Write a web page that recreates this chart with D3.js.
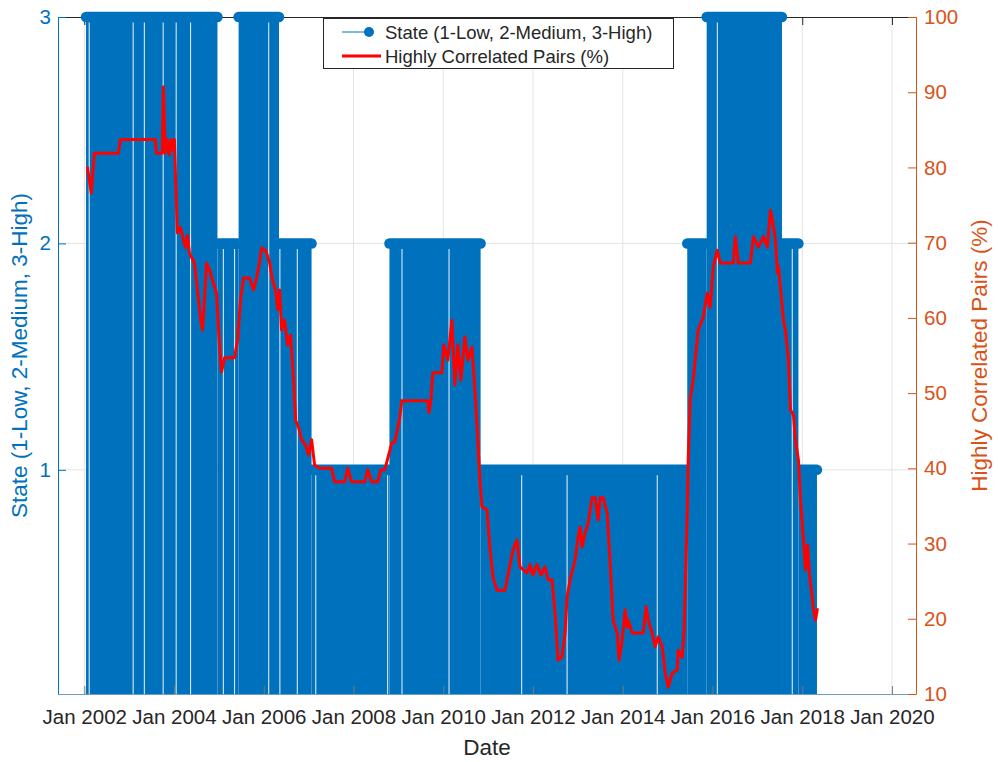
<!DOCTYPE html>
<html>
<head>
<meta charset="utf-8">
<script src="https://cdn.jsdelivr.net/npm/d3@7"></script>
<style>
  body { margin: 0; background: #fff; }
  text { font-family: "Liberation Sans", Arial, sans-serif; }
</style>
</head>
<body>
<div id="chart"></div>
<script>
// state regimes: each start date holds its state until the next one
const regimeStarts = ['2002-01-15', '2004-12-20', '2005-06-10', '2006-05-05', '2007-01-25', '2008-10-20',
  '2010-11-01', '2015-06-10', '2015-11-15', '2017-07-20', '2017-12-01'];
const regimeStates = [3, 2, 3, 2, 1, 2, 1, 2, 3, 2, 1];
const stateEnd = '2018-05-01';

// days with no observation (thin gaps between the stems)
const missingDays = ['2002-02-10', '2003-02-03', '2003-05-05', '2003-10-05', '2004-01-19', '2004-05-15',
  '2005-02-06', '2005-05-08', '2006-02-10', '2006-05-12', '2006-10-01', '2007-02-28', '2008-10-05',
  '2009-01-30', '2010-02-17', '2011-10-01', '2012-10-05', '2014-10-09', '2016-02-10', '2017-10-12'];

// highly correlated pairs (%), dates as decimal years
const pairYears = [
  2002.067, 2002.156, 2002.223, 2002.759, 2002.804, 2003.585, 2003.607, 2003.741, 2003.763, 2003.808,
  2003.853, 2003.897, 2003.942, 2003.987, 2004.009, 2004.076, 2004.143, 2004.210, 2004.254, 2004.299,
  2004.344, 2004.455, 2004.545, 2004.589, 2004.634, 2004.679, 2004.723, 2004.790, 2004.857, 2004.946,
  2004.991, 2005.036, 2005.058, 2005.125, 2005.348, 2005.415, 2005.482, 2005.549, 2005.683, 2005.772,
  2005.839, 2005.906, 2005.951, 2006.040, 2006.129, 2006.196, 2006.263, 2006.308, 2006.353, 2006.397,
  2006.464, 2006.531, 2006.598, 2006.665, 2006.710, 2006.777, 2006.844, 2006.933, 2007.000, 2007.067,
  2007.134, 2007.246, 2007.513, 2007.580, 2007.804, 2007.871, 2007.960, 2008.250, 2008.317, 2008.406,
  2008.540, 2008.607, 2008.696, 2008.853, 2008.920, 2009.031, 2009.076, 2009.656, 2009.679, 2009.723,
  2009.768, 2009.969, 2010.013, 2010.103, 2010.192, 2010.259, 2010.326, 2010.393, 2010.482, 2010.549,
  2010.638, 2010.705, 2010.750, 2010.817, 2010.862, 2010.973, 2011.040, 2011.107, 2011.196, 2011.375,
  2011.442, 2011.509, 2011.554, 2011.643, 2011.710, 2011.866, 2011.933, 2012.000, 2012.089, 2012.179,
  2012.268, 2012.335, 2012.424, 2012.491, 2012.558, 2012.647, 2012.714, 2012.759, 2012.826, 2012.938,
  2013.004, 2013.049, 2013.094, 2013.161, 2013.228, 2013.317, 2013.384, 2013.451, 2013.496, 2013.563,
  2013.652, 2013.719, 2013.786, 2013.875, 2013.920, 2013.987, 2014.054, 2014.098, 2014.121, 2014.210,
  2014.455, 2014.522, 2014.567, 2014.656, 2014.723, 2014.790, 2014.879, 2014.946, 2015.013, 2015.103,
  2015.214, 2015.237, 2015.326, 2015.371, 2015.438, 2015.460, 2015.504, 2015.571, 2015.616, 2015.683,
  2015.795, 2015.884, 2015.951, 2016.018, 2016.107, 2016.174, 2016.464, 2016.509, 2016.576, 2016.844,
  2016.911, 2017.022, 2017.134, 2017.223, 2017.290, 2017.335, 2017.402, 2017.446, 2017.469, 2017.513,
  2017.580, 2017.625, 2017.692, 2017.737, 2017.804, 2017.848, 2017.915, 2017.960, 2018.027, 2018.071,
  2018.116, 2018.161, 2018.205, 2018.250, 2018.295, 2018.339];
const pairValues = [
  80.1, 76.6, 81.9, 81.9, 83.7, 83.7, 81.9, 81.9, 90.7, 81.9,
  83.7, 81.7, 83.7, 82.3, 83.7, 71.3, 72.0, 70.4, 69.4, 71.0,
  68.6, 67.3, 62.4, 60.0, 58.4, 62.4, 67.3, 66.4, 65.0, 63.3,
  58.4, 54.4, 52.8, 54.7, 54.7, 57.1, 62.4, 65.3, 65.3, 63.7,
  65.3, 67.4, 69.3, 69.0, 67.4, 65.0, 63.7, 61.1, 63.7, 58.4,
  59.7, 56.4, 57.7, 51.7, 46.4, 45.4, 43.8, 43.1, 41.8, 43.8,
  40.4, 40.0, 40.0, 38.2, 38.2, 40.0, 38.2, 38.2, 39.8, 38.2,
  38.2, 39.8, 39.8, 43.4, 43.5, 46.8, 49.0, 49.0, 47.4, 49.0,
  52.7, 52.7, 56.4, 54.4, 59.7, 51.1, 56.4, 51.7, 57.5, 54.4,
  56.1, 50.4, 46.0, 38.4, 34.9, 34.5, 29.5, 25.6, 23.8, 23.8,
  25.8, 27.8, 29.1, 30.5, 26.9, 26.1, 27.2, 25.8, 27.2, 25.8,
  26.9, 25.2, 25.2, 20.8, 14.5, 14.9, 18.1, 22.9, 25.2, 27.8,
  30.9, 32.2, 29.5, 31.4, 32.7, 36.1, 36.1, 33.1, 36.1, 36.1,
  34.1, 27.4, 19.8, 18.1, 14.5, 17.2, 21.2, 18.9, 19.8, 18.1,
  18.1, 21.6, 19.8, 18.1, 16.3, 17.6, 16.3, 12.8, 10.9, 12.8,
  13.2, 15.8, 14.9, 18.9, 34.1, 41.1, 49.1, 51.7, 54.4, 58.4,
  60.1, 63.3, 61.4, 66.8, 69.0, 67.3, 67.3, 70.8, 67.3, 67.3,
  70.8, 69.4, 70.8, 69.4, 74.3, 73.0, 70.4, 66.0, 66.8, 64.1,
  59.7, 58.4, 54.4, 47.8, 47.1, 43.8, 41.1, 35.8, 30.5, 26.5,
  29.8, 25.8, 23.8, 21.2, 19.8, 21.4];

const tickYears = [2002, 2004, 2006, 2008, 2010, 2012, 2014, 2016, 2018, 2020];
const stateTicks = [1, 2, 3];
const pairTicks = [10, 20, 30, 40, 50, 60, 70, 80, 90, 100];

const blue = '#0072BD';
const orange = '#D95319';
const ink = '#262626';
const font = '"Liberation Sans", Arial, sans-serif';

function yearToDate(y) {
  const yr = Math.floor(y);
  const a = new Date(yr, 0, 1), b = new Date(yr + 1, 0, 1);
  return new Date(+a + (y - yr) * (b - a));
}

const parse = d3.timeParse('%Y-%m-%d');
const width = 998, height = 762;
const plotL = 58, plotR = 916, plotT = 17, plotB = 694;

const svg = d3.select('#chart').append('svg')
  .attr('width', width)
  .attr('height', height);

const x = d3.scaleTime()
  .domain([new Date(2001, 5, 1), new Date(2020, 6, 15)])
  .range([plotL, plotR]);
const yState = d3.scaleLinear().domain([0.01, 3]).range([plotB, plotT]);
const yPair = d3.scaleLinear().domain([10, 100]).range([plotB, plotT]);

const tickDates = tickYears.map(y => new Date(y, 0, 1));

// grid
const grid = svg.append('g').attr('stroke', '#e3e3e3').attr('stroke-width', 1);
grid.selectAll('.vg').data(tickDates).enter().append('line')
  .attr('x1', d => x(d)).attr('x2', d => x(d))
  .attr('y1', plotT).attr('y2', plotB);
grid.selectAll('.hg').data(stateTicks.slice(0, 2)).enter().append('line')
  .attr('x1', plotL).attr('x2', plotR)
  .attr('y1', d => yState(d)).attr('y2', d => yState(d));

// top box line and mirrored ticks
svg.append('g')
  .attr('transform', `translate(0,${plotT})`)
  .call(d3.axisTop(x).tickValues(tickDates).tickFormat('').tickSizeInner(-8).tickSizeOuter(0))
  .call(g => g.selectAll('line, path').attr('stroke', ink));

// stem regimes
const regimes = regimeStarts.map((s, i) => ({
  start: parse(s),
  end: parse(i + 1 < regimeStarts.length ? regimeStarts[i + 1] : stateEnd),
  state: regimeStates[i]
}));

svg.append('g').selectAll('rect')
  .data(regimes).enter().append('rect')
  .attr('x', d => x(d.start))
  .attr('width', d => x(d.end) - x(d.start))
  .attr('y', d => yState(d.state))
  .attr('height', d => plotB - yState(d.state))
  .attr('fill', blue);

svg.append('g').selectAll('line')
  .data(regimes).enter().append('line')
  .attr('x1', d => x(d.start))
  .attr('x2', d => x(d.end))
  .attr('y1', d => yState(d.state))
  .attr('y2', d => yState(d.state))
  .attr('stroke', blue)
  .attr('stroke-width', 10.5)
  .attr('stroke-linecap', 'round');

function stateAt(date) {
  let s = regimes[0].state;
  regimes.forEach(r => { if (date >= r.start) s = r.state; });
  return s;
}

svg.append('g').selectAll('line')
  .data(missingDays.map(parse)).enter().append('line')
  .attr('x1', d => x(d)).attr('x2', d => x(d))
  .attr('y1', d => yState(stateAt(d)) + 5.5)
  .attr('y2', plotB)
  .attr('stroke', '#d9e9f4')
  .attr('stroke-width', 1.1);

// correlated pairs line
const pairs = pairYears.map((y, i) => ({ date: yearToDate(y), value: pairValues[i] }));
svg.append('path')
  .datum(pairs)
  .attr('fill', 'none')
  .attr('stroke', '#ff0000')
  .attr('stroke-width', 3)
  .attr('stroke-linejoin', 'round')
  .attr('d', d3.line().x(d => x(d.date)).y(d => yPair(d.value)));

// bottom axis
svg.append('g')
  .attr('transform', `translate(0,${plotB})`)
  .call(d3.axisBottom(x).tickValues(tickDates).tickFormat(d3.timeFormat('%b %Y'))
    .tickSizeInner(-8).tickSizeOuter(0).tickPadding(15))
  .call(g => g.select('.domain').attr('stroke', '#6f9cbd'))
  .call(g => g.selectAll('.tick line').attr('stroke', '#777'))
  .call(g => g.selectAll('text').attr('fill', ink).attr('font-size', 20.5).attr('font-family', font));

// left axis
svg.append('g')
  .attr('transform', `translate(${plotL},0)`)
  .call(d3.axisLeft(yState).tickValues(stateTicks).tickFormat(d3.format('d'))
    .tickSizeInner(-8).tickSizeOuter(0).tickPadding(7))
  .call(g => g.selectAll('line, path').attr('stroke', blue))
  .call(g => g.selectAll('text').attr('fill', blue).attr('font-size', 20.5).attr('font-family', font));

// right axis
svg.append('g')
  .attr('transform', `translate(${plotR},0)`)
  .call(d3.axisRight(yPair).tickValues(pairTicks).tickSizeInner(-8).tickSizeOuter(0).tickPadding(8))
  .call(g => g.selectAll('line, path').attr('stroke', orange))
  .call(g => g.selectAll('text').attr('fill', orange).attr('font-size', 20.5).attr('font-family', font));

// axis titles
svg.append('text')
  .attr('x', (plotL + plotR) / 2).attr('y', 755)
  .attr('text-anchor', 'middle')
  .attr('font-size', 22.5)
  .attr('fill', ink)
  .text('Date');

svg.append('text')
  .attr('transform', `translate(27,${(plotT + plotB) / 2}) rotate(-90)`)
  .attr('text-anchor', 'middle')
  .attr('font-size', 22.5)
  .attr('fill', blue)
  .text('State (1-Low, 2-Medium, 3-High)');

svg.append('text')
  .attr('transform', `translate(987,${(plotT + plotB) / 2}) rotate(-90)`)
  .attr('text-anchor', 'middle')
  .attr('font-size', 22.5)
  .attr('fill', orange)
  .text('Highly Correlated Pairs (%)');

// legend
const legend = svg.append('g');
legend.append('rect')
  .attr('x', 323.5).attr('y', 18.5)
  .attr('width', 350).attr('height', 50)
  .attr('fill', '#fff')
  .attr('stroke', ink);
legend.append('line')
  .attr('x1', 342).attr('x2', 369).attr('y1', 32).attr('y2', 32)
  .attr('stroke', blue).attr('stroke-width', 1);
legend.append('circle')
  .attr('cx', 369).attr('cy', 32).attr('r', 5)
  .attr('fill', blue);
legend.append('line')
  .attr('x1', 342).attr('x2', 381).attr('y1', 56).attr('y2', 56)
  .attr('stroke', '#ff0000').attr('stroke-width', 3);
legend.append('text')
  .attr('x', 385).attr('y', 39)
  .attr('font-size', 18.5).attr('fill', ink)
  .text('State (1-Low, 2-Medium, 3-High)');
legend.append('text')
  .attr('x', 385).attr('y', 63)
  .attr('font-size', 18.5).attr('fill', ink)
  .text('Highly Correlated Pairs (%)');
</script>
</body>
</html>
